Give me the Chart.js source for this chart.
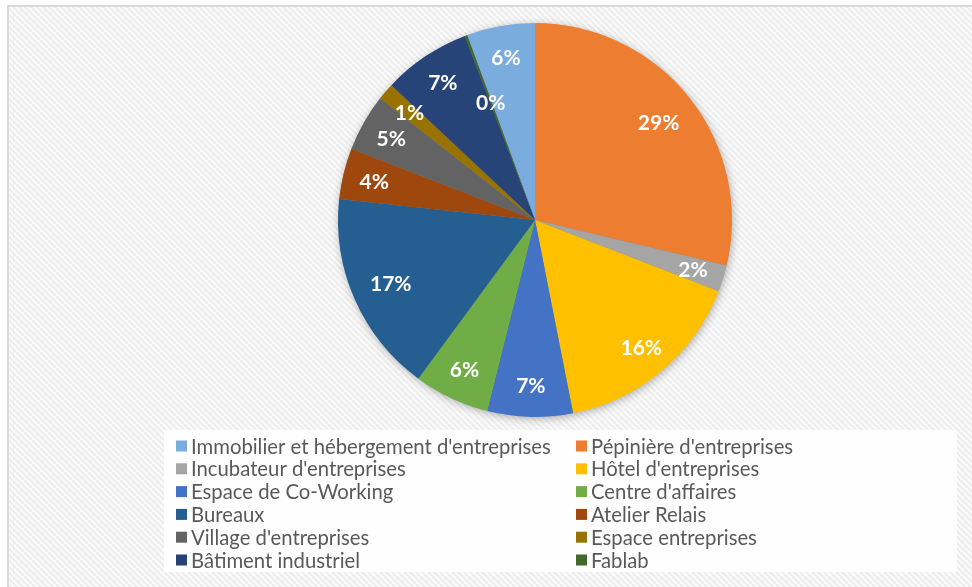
<!DOCTYPE html>
<html>
<head>
<meta charset="utf-8">
<script src="https://cdn.jsdelivr.net/npm/chart.js@4/dist/chart.umd.min.js"></script>
<style>
  html, body { margin: 0; padding: 0; background: #fff; }
  #wrap { width: 972px; height: 587px; }
</style>
</head>
<body>
<div id="wrap"><canvas id="myChart" width="972" height="587"></canvas></div>
<script>
// categories (legend order = slice order, clockwise)
var labels = [
    "Immobilier et hébergement d'entreprises",
    "Pépinière d'entreprises",
    "Incubateur d'entreprises",
    "Hôtel d'entreprises",
    "Espace de Co-Working",
    "Centre d'affaires",
    "Bureaux",
    "Atelier Relais",
    "Village d'entreprises",
    "Espace entreprises",
    "Bâtiment industriel",
    "Fablab"
];
// share of each category, %
var values = [5.6, 28.7, 2.2, 16.0, 7.0, 6.2, 16.6, 4.2, 4.7, 1.4, 7.2, 0.2];
var colors = ['#7AADDE', '#ED7D31', '#A5A5A5', '#FFC000', '#4472C4', '#70AD47',
              '#255E91', '#9E480E', '#636363', '#997300', '#264478', '#43682B'];

var total = values.reduce(function (a, b) { return a + b; }, 0);
var pctText = values.map(function (v) { return Math.round(v / total * 100) + '%'; });

// background frame with the faint diagonal hatch
var bgPlugin = {
    id: 'bg',
    beforeDraw: function (chart) {
        var ctx = chart.ctx;
        var p = document.createElement('canvas');
        p.width = 6; p.height = 6;
        var pc = p.getContext('2d');
        pc.fillStyle = '#fbfbfb';
        pc.fillRect(0, 0, 6, 6);
        pc.strokeStyle = '#ececec';
        pc.lineWidth = 2;
        pc.beginPath();
        pc.moveTo(-1, -1); pc.lineTo(7, 7);
        pc.moveTo(-4, 2); pc.lineTo(4, 10);
        pc.moveTo(2, -4); pc.lineTo(10, 4);
        pc.stroke();
        ctx.save();
        ctx.fillStyle = '#fff';
        ctx.fillRect(0, 0, chart.width, chart.height);
        ctx.fillStyle = ctx.createPattern(p, 'repeat');
        ctx.fillRect(9, 7, chart.width, chart.height);
        ctx.strokeStyle = '#d9d9d9';
        ctx.lineWidth = 2;
        ctx.strokeRect(8, 6, chart.width + 20, chart.height + 20);
        // legend box
        ctx.fillStyle = '#fefefe';
        ctx.fillRect(164, 430, 793, 142);
        ctx.restore();
    },
    beforeDatasetsDraw: function (chart) {
        var arc = chart.getDatasetMeta(0).data[0];
        if (!arc) return;
        var ctx = chart.ctx;
        ctx.save();
        ctx.shadowColor = 'rgba(0,0,0,0.35)';
        ctx.shadowBlur = 10;
        ctx.shadowOffsetX = 1;
        ctx.shadowOffsetY = 2;
        ctx.fillStyle = '#888';
        ctx.beginPath();
        ctx.arc(arc.x, arc.y, arc.outerRadius - 1, 0, Math.PI * 2);
        ctx.fill();
        ctx.restore();
    },
    afterDatasetsDraw: function (chart) {
        var ctx = chart.ctx;
        var meta = chart.getDatasetMeta(0);
        ctx.save();
        ctx.fillStyle = '#fff';
        ctx.font = 'bold 21px Lato';
        ctx.textAlign = 'center';
        ctx.textBaseline = 'middle';
        meta.data.forEach(function (a, i) {
            var mid = (a.startAngle + a.endAngle) / 2;
            var f = 0.84;
            if (i === 1 || i === 6) f = 0.80;
            if (i === 11) f = 0.64;
            ctx.fillText(pctText[i], a.x + Math.cos(mid) * a.outerRadius * f,
                                     a.y + Math.sin(mid) * a.outerRadius * f + 1);
        });
        ctx.restore();
    },
    afterDraw: function (chart) {
        // two-column legend, row by row
        var ctx = chart.ctx;
        ctx.save();
        ctx.font = '20.3px Lato';
        ctx.textBaseline = 'middle';
        ctx.textAlign = 'left';
        labels.forEach(function (lab, i) {
            var col = i % 2, row = Math.floor(i / 2);
            var x = col === 0 ? 176 : 576;
            var y = 446 + row * 22.8;
            ctx.fillStyle = colors[i];
            ctx.fillRect(x, y - 5.5, 11, 11);
            ctx.fillStyle = '#595959';
            ctx.fillText(lab, x + 15, y + 1);
        });
        ctx.restore();
    }
};

var ctx = document.getElementById('myChart').getContext('2d');
var chart = new Chart(ctx, {
    type: 'pie',
    data: {
        labels: labels,
        datasets: [{
            data: values,
            backgroundColor: colors,
            borderWidth: 0
        }]
    },
    options: {
        responsive: false,
        animation: false,
        rotation: -values[0] / total * 360,
        layout: { padding: { top: 23, bottom: 170, left: 198, right: 100 } },
        plugins: {
            legend: { display: false },
            tooltip: { enabled: false }
        }
    },
    plugins: [bgPlugin]
});
</script>
</body>
</html>
